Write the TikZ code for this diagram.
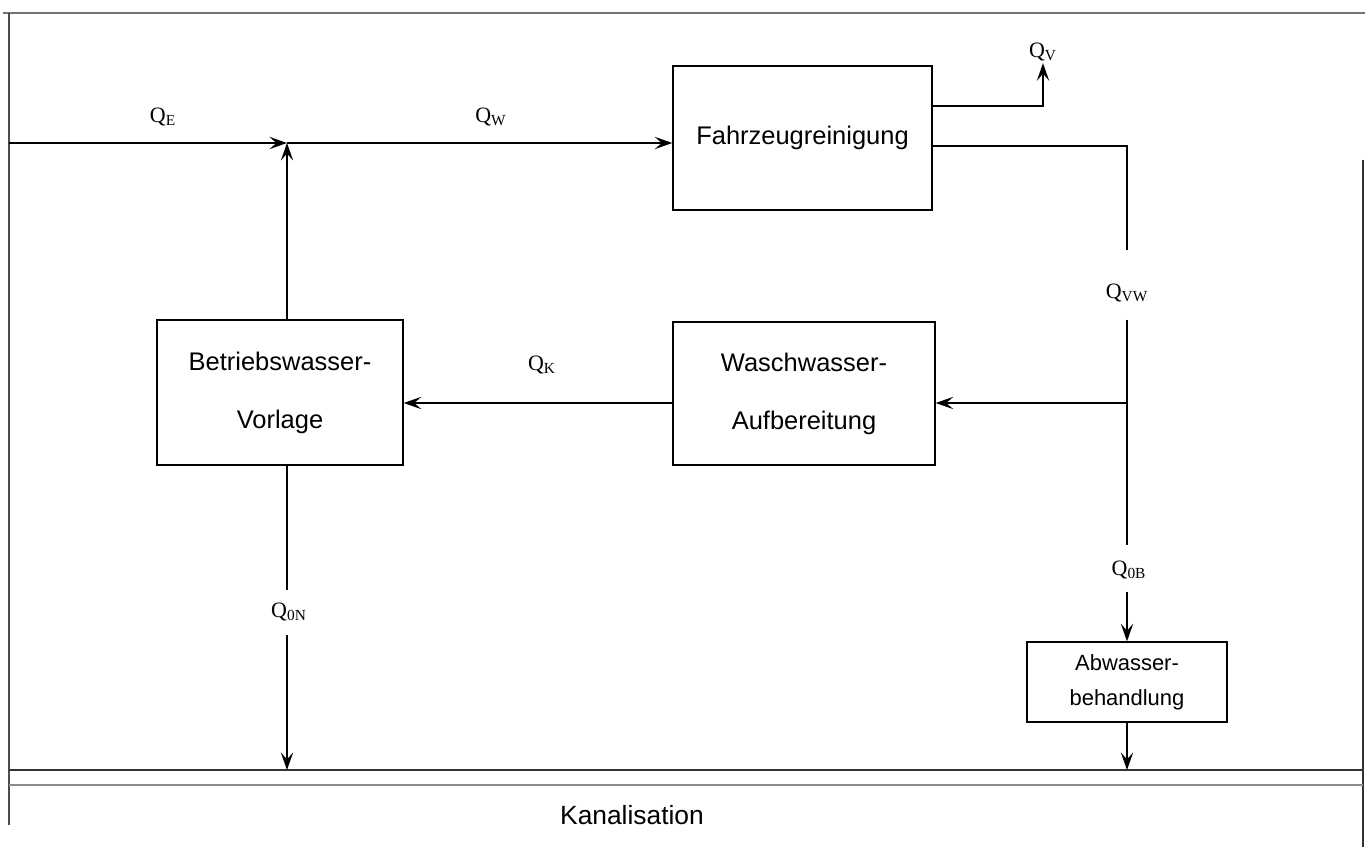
\documentclass[tikz,border=0pt]{standalone}
\usepackage{fontspec}
\setmainfont{Liberation Sans}
\newfontfamily\qfont{Liberation Serif}
\usetikzlibrary{arrows.meta}
\begin{document}
\begin{tikzpicture}[x=0.02cm,y=-0.02cm,
        anlage/.style={draw, line width=0.8pt, inner sep=0pt, align=center},
        fluss/.style={line width=1pt},
        pfeil/.style={fluss, -{Stealth[length=10pt,width=7pt,inset=4pt]}},
        menge/.style={font=\qfont\fontsize{12.5}{14}\selectfont, inner sep=1pt}]
    \useasboundingbox (0,0) rectangle (1370,847);
    % frame and sewer
    \draw [line width=1pt, black!55] (3,13) -- (1365,13);
    \draw [line width=1pt, black!70] (9,13) -- (9,825);
    \draw [line width=1pt, black!80] (1363,160) -- (1363,847);
    \draw [line width=1pt, black!80] (9,770) -- (1363,770);
    \draw [line width=1pt, black!45] (9,785) -- (1363,785);
        \node (kanal) at (632,815) {\fontsize{15}{17}\selectfont Kanalisation};
    % plants
    \node [anlage, minimum width=259*0.02cm, minimum height=144*0.02cm, font=\fontsize{14.5}{17}\selectfont] (fzr) at (802.5,138) {Fahrzeugreinigung};
    \node [anlage, minimum width=262*0.02cm, minimum height=143*0.02cm, font=\fontsize{14.5}{33}\selectfont] (wwa) at (804,393.5) {Waschwasser-\\Aufbereitung};
    \node [anlage, minimum width=246*0.02cm, minimum height=145*0.02cm, font=\fontsize{14.5}{33}\selectfont] (bwv) at (280,392.5) {Betriebswasser-\\Vorlage};
    \node [anlage, minimum width=200*0.02cm, minimum height=80*0.02cm, font=\fontsize{12.5}{20}\selectfont] (awb) at (1127,682) {Abwasser-\\behandlung};
    % flow labels
    \node [menge] (qe) at (163,117) {Q\textsubscript{E}};
    \node [menge] (qw) at (491,117) {Q\textsubscript{W}};
    \node [menge] (qv) at (1043,52) {Q\textsubscript{V}};
    \node [menge] (qvw) at (1127,293) {Q\textsubscript{VW}};
    \node [menge] (qk) at (542,365) {Q\textsubscript{K}};
    \node [menge] (qob) at (1129,570) {Q\textsubscript{0B}};
    \node [menge] (qon) at (289,612) {Q\textsubscript{0N}};
    % junctions
    \coordinate (zu) at (9,143);
    \coordinate (misch) at (287,143);
    \coordinate (ab) at (1127,403);
    \coordinate (kbw) at (287,770);
    \coordinate (kaw) at (1127,770);
    % flows
    \draw [pfeil] (zu) -- (misch);
    \draw [pfeil] (misch) -- (fzr.west |- misch);
    \draw [pfeil] (bwv.north -| misch) -- (misch);
    \draw [pfeil] (fzr.east |- 0,106) -| (qv.south);
    \draw [fluss] (fzr.east |- 0,146) -| (1127,250);
    \draw [fluss] (1127,320) -- (1127,545);
    \draw [pfeil] (1127,592) -- (awb.north);
    \draw [pfeil] (ab) -- (wwa.east |- ab);
    \draw [pfeil] (wwa.west |- ab) -- (bwv.east |- ab);
    \draw [fluss] (bwv.south -| misch) -- (287,590);
    \draw [pfeil] (287,635) -- (kbw);
    \draw [pfeil] (awb.south) -- (kaw);
\end{tikzpicture}
\end{document}
